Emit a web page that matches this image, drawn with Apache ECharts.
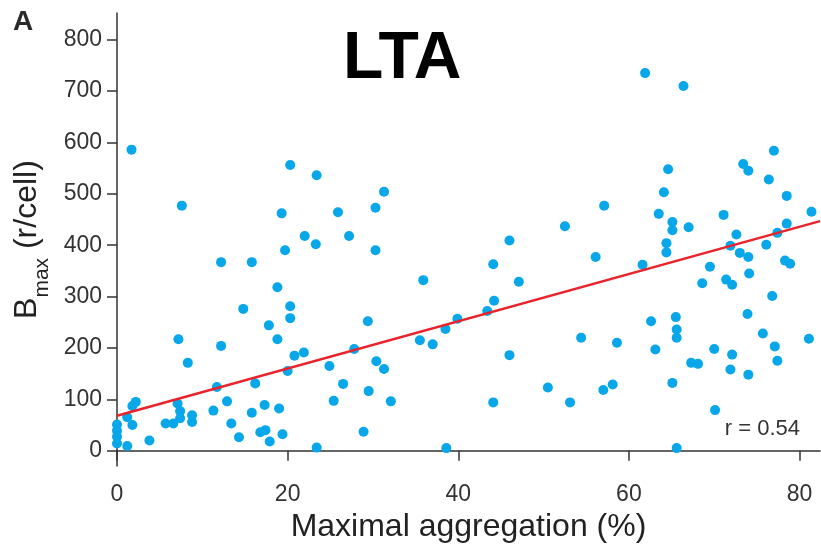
<!DOCTYPE html>
<html>
<head>
<meta charset="utf-8">
<script src="https://cdn.jsdelivr.net/npm/echarts@6/dist/echarts.min.js"></script>
<style>
  html, body { margin: 0; padding: 0; background: #fff; }
  #chart { width: 821px; height: 548px; }
</style>
</head>
<body>
<div id="chart"></div>
<script>
  // maximal aggregation (%) of each cell sample
  var aggregation = [
    0, 0, 0, 0, 1.2, 1.2, 1.7, 1.8, 1.8, 2.2, 3.8, 5.7, 6.6, 7.1, 7.4, 7.4, 7.2, 7.6, 8.3, 8.8,
    8.8, 11.3, 11.7, 12.2, 12.2, 12.9, 13.4, 14.3, 14.8, 15.8, 15.8, 16.2, 16.8, 17.3, 17.4, 17.8, 17.9, 18.8, 18.8, 19.0,
    19.3, 19.4, 19.7, 20.0, 20.3, 20.3, 20.3, 20.8, 21.9, 22.0, 23.3, 23.4, 23.4, 24.9, 25.4, 25.9, 26.5, 27.2, 27.8, 28.9,
    29.4, 29.5, 30.3, 30.3, 30.4, 31.3, 31.3, 32.1, 35.5, 35.9, 37.0, 38.5, 38.6, 39.9, 43.4, 44.1, 44.1, 44.2, 46.0, 46.0,
    47.1, 50.5, 52.5, 53.1, 54.4, 56.1, 57.0, 57.1, 58.1, 58.6, 61.6, 61.9, 62.6, 63.1, 63.5, 64.1, 64.4, 64.4, 64.6, 65.1,
    65.1, 65.1, 65.5, 65.6, 65.6, 65.6, 66.4, 67.0, 67.3, 68.1, 68.6, 69.5, 70.0, 70.1, 71.1, 71.4, 71.9, 71.9, 72.1, 72.1,
    72.6, 73.0, 73.4, 73.9, 74.0, 74.0, 74.0, 74.1, 75.7, 76.1, 76.4, 76.8, 77.0, 77.1, 77.4, 77.4, 78.3, 78.5, 78.5, 78.9,
    81.1, 81.4
  ];
  // Bmax (r/cell), same order
  var bmax = [
    51, 39, 27, 14, 65, 9, 586, 50, 87, 95, 20, 53, 53, 92, 77, 63, 217, 477, 171, 69,
    56, 78, 124, 367, 204, 96, 53, 26, 276, 367, 74, 131, 36, 89, 40, 244, 18, 318, 217, 82,
    462, 32, 390, 155, 556, 281, 258, 185, 191, 418, 402, 536, 6, 165, 97, 464, 130, 418, 198, 37,
    252, 116, 473, 390, 174, 504, 159, 96, 215, 332, 207, 237, 5, 257, 272, 363, 94, 292, 409, 186,
    329, 123, 437, 94, 220, 377, 118, 477, 129, 210, 362, 735, 252, 197, 461, 503, 404, 386, 548, 445,
    429, 132, 260, 236, 220, 5, 710, 435, 171, 169, 326, 358, 198, 79, 459, 333, 399, 158, 323, 187,
    421, 385, 558, 266, 545, 377, 148, 345, 228, 401, 528, 301, 584, 203, 424, 175, 370, 496, 442, 364,
    218, 465
  ];
  var yTicks = [0, 100, 200, 300, 400, 500, 600, 700, 800];
  var xTicks = [0, 20, 40, 60, 80];
  // regression line
  var fitIntercept = 68;
  var fitSlope = 4.6;
  var xMax = 82.4;

  var points = aggregation.map(function (x, i) { return [x, bmax[i]]; });
  var fit = [[0, fitIntercept], [xMax, fitIntercept + fitSlope * xMax]];

  var font = '"Liberation Sans", Arial, sans-serif';
  var chart = echarts.init(document.getElementById('chart'));
  chart.setOption({
    animation: false,
    grid: { left: 117, right: 1, top: 13, bottom: 81 },
    xAxis: {
      type: 'value',
      min: 0,
      max: xMax,
      name: 'Maximal aggregation (%)',
      nameLocation: 'middle',
      nameGap: 42,
      nameTextStyle: { fontFamily: font, fontSize: 32, color: '#222' },
      axisLine: { lineStyle: { color: '#333', width: 1.5 } },
      axisTick: { show: true, length: 10, customValues: xTicks, lineStyle: { color: '#333', width: 1.5 } },
      axisLabel: { customValues: xTicks, fontFamily: font, fontSize: 23, color: '#333', margin: 17 },
      splitLine: { show: false }
    },
    yAxis: {
      type: 'value',
      min: -30,
      max: 852,
      name: '{b|B}{s|max}{b| (r/cell)}',
      nameLocation: 'middle',
      nameGap: 72,
      nameRotate: 90,
      nameTextStyle: {
        rich: {
          b: { fontFamily: font, fontSize: 32, lineHeight: 32, color: '#222', verticalAlign: 'top' },
          s: { fontFamily: font, fontSize: 21, lineHeight: 21, color: '#222', verticalAlign: 'top', padding: [21, 0, 0, 0] }
        }
      },
      axisLine: { show: true, lineStyle: { color: '#333', width: 1.5 } },
      axisTick: { show: true, length: 10, customValues: yTicks, lineStyle: { color: '#333', width: 1.5 } },
      axisLabel: { customValues: yTicks, fontFamily: font, fontSize: 23, color: '#333', margin: 15 },
      splitLine: { show: false }
    },
    graphic: [
      { type: 'text', left: 13, top: 8, style: { text: 'A', fontFamily: font, fontWeight: 'bold', fontSize: 28, fill: '#2a2a2a' } },
      { type: 'text', left: 343, top: 27, style: { text: 'LTA', fontFamily: font, fontWeight: 'bold', fontSize: 66, fill: '#000' } },
      { type: 'text', right: 21, top: 418, style: { text: 'r = 0.54', fontFamily: font, fontSize: 22, fill: '#333' } }
    ],
    series: [
      {
        type: 'scatter',
        data: points,
        symbolSize: 10,
        itemStyle: { color: '#07a7ea', opacity: 1 }
      },
      {
        type: 'line',
        data: fit,
        symbol: 'none',
        z: 3,
        lineStyle: { color: '#e8232b', width: 2.4 }
      }
    ]
  });
</script>
</body>
</html>
